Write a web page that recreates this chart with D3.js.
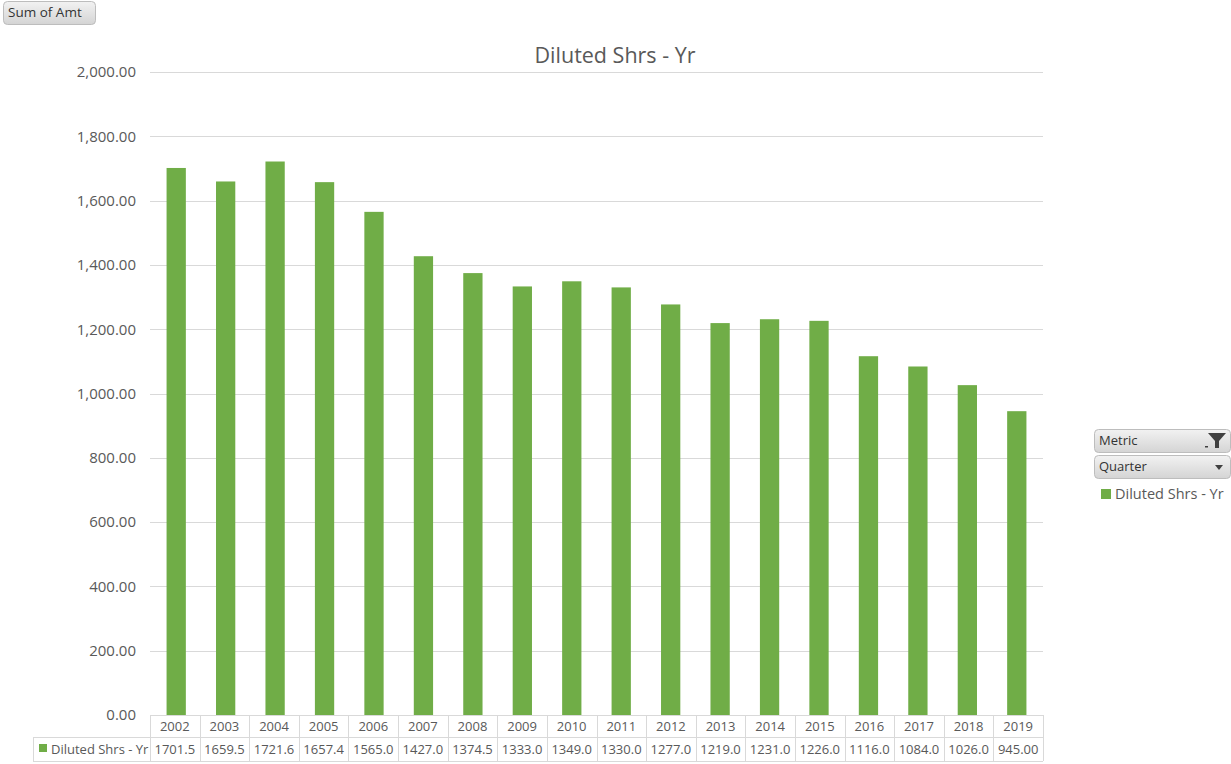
<!DOCTYPE html>
<html>
<head>
<meta charset="utf-8">
<script src="https://cdn.jsdelivr.net/npm/d3@7"></script>
<style>
  html, body { margin: 0; padding: 0; background: #fff; }
  svg { display: block; font-family: "Open Sans", "Noto Sans", sans-serif; }
</style>
</head>
<body>
<svg id="chart" width="1231" height="764"></svg>
<script>
// Diluted shares by fiscal year
const years = ["2002","2003","2004","2005","2006","2007","2008","2009","2010","2011","2012","2013","2014","2015","2016","2017","2018","2019"];
const shares = [1701.5,1659.5,1721.6,1657.4,1565.0,1427.0,1374.5,1333.0,1349.0,1330.0,1277.0,1219.0,1231.0,1226.0,1116.0,1084.0,1026.0,945.00];
const tableLabels = ["1701.5","1659.5","1721.6","1657.4","1565.0","1427.0","1374.5","1333.0","1349.0","1330.0","1277.0","1219.0","1231.0","1226.0","1116.0","1084.0","1026.0","945.00"];
const yTicks = [0,200,400,600,800,1000,1200,1400,1600,1800,2000];
const seriesName = "Diluted Shrs - Yr";

const svg = d3.select("#chart");
const green = "#70AD47";
const textCol = "#595959";
const gridCol = "#d9d9d9";

const plot = { left: 150, right: 1043, top: 72, bottom: 715 };

const x = d3.scaleBand().domain(years).range([plot.left, plot.right]).paddingInner(0.61).paddingOuter(0.335);
const xCell = d3.scaleBand().domain(years).range([plot.left, plot.right]);
const y = d3.scaleLinear().domain([0, 2000]).range([plot.bottom, plot.top]);

// gradient for pivot field buttons
const defs = svg.append("defs");
const grad = defs.append("linearGradient").attr("id", "btn").attr("x1", 0).attr("y1", 0).attr("x2", 0).attr("y2", 1);
grad.append("stop").attr("offset", "0%").attr("stop-color", "#f2f2f2");
grad.append("stop").attr("offset", "100%").attr("stop-color", "#d4d4d4");

function button(x0, y0, w, h, label, fs) {
  const g = svg.append("g");
  g.append("rect").attr("x", x0 + 0.5).attr("y", y0 + 0.5).attr("width", w).attr("height", h)
    .attr("rx", 4).attr("fill", "url(#btn)").attr("stroke", "#bdbdbd");
  g.append("text").attr("x", x0 + 5).attr("y", y0 + h / 2 + 4.5)
    .attr("font-size", fs).attr("fill", "#333").text(label);
  return g;
}

button(3, 1, 92, 23, "Sum of Amt", 13.5);

// title
svg.append("text").attr("x", 615).attr("y", 63).attr("text-anchor", "middle")
  .attr("font-size", 21.5).attr("fill", textCol).text(seriesName);

// gridlines
svg.append("g").selectAll("line").data(yTicks.filter(d => d > 0)).join("line")
  .attr("x1", plot.left).attr("x2", plot.right)
  .attr("y1", d => Math.round(y(d)) + 0.5).attr("y2", d => Math.round(y(d)) + 0.5)
  .attr("stroke", gridCol);

// y axis labels
const yAxis = d3.axisLeft(y).tickValues(yTicks).tickSize(0).tickPadding(0)
  .tickFormat(d3.format(",.2f"));
const ya = svg.append("g").attr("transform", `translate(${plot.left - 14},0)`).call(yAxis);
ya.select(".domain").remove();
ya.selectAll("text").attr("font-size", 15).attr("fill", textCol)
  .attr("font-family", "'Open Sans', 'Noto Sans', sans-serif");

// bars
svg.append("g").selectAll("rect").data(years).join("rect")
  .attr("x", d => x(d))
  .attr("width", x.bandwidth())
  .attr("y", (d, i) => y(shares[i]))
  .attr("height", (d, i) => y(0) - y(shares[i]))
  .attr("fill", green);

// data table under the axis
const tbl = svg.append("g");
const rowTop = plot.bottom, rowMid = 737, rowBot = 761, tableLeft = 33;
const tcol = "#d9d9d9";
// horizontal lines
tbl.append("line").attr("x1", plot.left).attr("x2", plot.right).attr("y1", rowTop + 0.5).attr("y2", rowTop + 0.5).attr("stroke", tcol);
tbl.append("line").attr("x1", tableLeft).attr("x2", plot.right).attr("y1", rowMid + 0.5).attr("y2", rowMid + 0.5).attr("stroke", tcol);
tbl.append("line").attr("x1", tableLeft).attr("x2", plot.right).attr("y1", rowBot + 0.5).attr("y2", rowBot + 0.5).attr("stroke", tcol);
// vertical lines
const edges = years.map(d => xCell(d)).concat([plot.right]);
tbl.selectAll("line.v").data(edges).join("line").attr("class", "v")
  .attr("x1", d => Math.round(d) + 0.5).attr("x2", d => Math.round(d) + 0.5)
  .attr("y1", rowTop).attr("y2", rowBot).attr("stroke", tcol);
tbl.append("line").attr("x1", tableLeft + 0.5).attr("x2", tableLeft + 0.5)
  .attr("y1", rowMid).attr("y2", rowBot).attr("stroke", tcol);

tbl.selectAll("text.yr").data(years).join("text").attr("class", "yr")
  .attr("x", d => xCell(d) + xCell.bandwidth() / 2).attr("y", 731)
  .attr("text-anchor", "middle").attr("font-size", 13).attr("fill", textCol).text(d => d);
tbl.selectAll("text.val").data(tableLabels).join("text").attr("class", "val")
  .attr("x", (d, i) => xCell(years[i]) + xCell.bandwidth() / 2).attr("y", 754)
  .attr("text-anchor", "middle").attr("font-size", 13).attr("fill", textCol).text(d => d);
tbl.append("rect").attr("x", 39).attr("y", 744).attr("width", 8).attr("height", 8).attr("fill", green);
tbl.append("text").attr("x", 51).attr("y", 754).attr("font-size", 13).attr("fill", textCol).text(seriesName);

// field buttons and legend on the right
const m = button(1094, 429, 136, 23, "Metric", 13);
// filter funnel icon
m.append("path").attr("d", "M1208,433 L1226,433 L1219,441 L1219,448 L1215,448 L1215,441 Z").attr("fill", "#404040");
m.append("rect").attr("x", 1205).attr("y", 446).attr("width", 3).attr("height", 1.5).attr("fill", "#404040");
const q = button(1094, 455, 136, 23, "Quarter", 13);
q.append("path").attr("d", "M1215,465 L1223,465 L1219,470 Z").attr("fill", "#404040");

svg.append("rect").attr("x", 1101).attr("y", 489).attr("width", 10).attr("height", 10).attr("fill", green);
svg.append("text").attr("x", 1115).attr("y", 499).attr("font-size", 14.5).attr("fill", textCol).text(seriesName);
</script>
</body>
</html>
